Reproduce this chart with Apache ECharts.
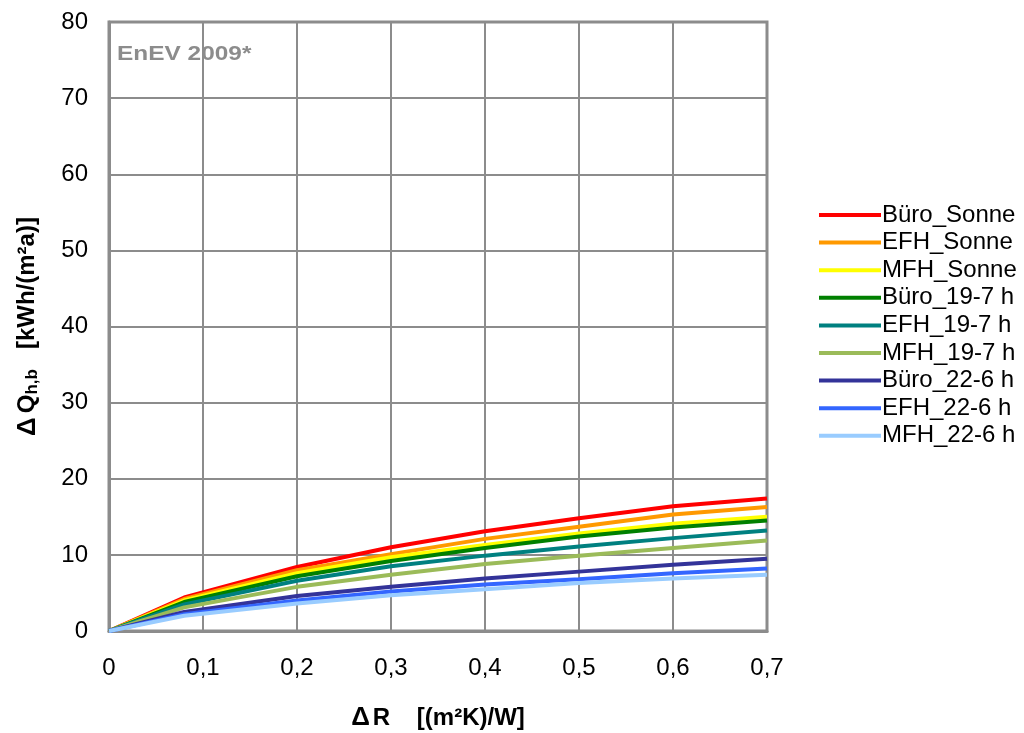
<!DOCTYPE html>
<html>
<head>
<meta charset="utf-8">
<style>
    html, body { margin: 0; padding: 0; background: #fff; }
    #chart { width: 1024px; height: 733px; }
</style>
<script src="https://cdn.jsdelivr.net/npm/echarts@6/dist/echarts.min.js"></script>
</head>
<body>
<div id="chart"></div>
<script>
    // ΔR Werte (x) und ΔQ Werte je Variante (y)
    var dR = [0, 0.08, 0.2, 0.3, 0.4, 0.5, 0.6, 0.7];
    var seriesNames = ['Büro_Sonne', 'EFH_Sonne', 'MFH_Sonne', 'Büro_19-7 h', 'EFH_19-7 h', 'MFH_19-7 h', 'Büro_22-6 h', 'EFH_22-6 h', 'MFH_22-6 h'];
    var bueroSonne = [0, 4.4, 8.4, 11.0, 13.1, 14.8, 16.4, 17.4];
    var efhSonne   = [0, 4.2, 8.0, 10.1, 12.1, 13.7, 15.3, 16.3];
    var mfhSonne   = [0, 4.0, 7.6, 9.7, 11.3, 12.8, 14.1, 15.0];
    var buero197   = [0, 3.8, 7.2, 9.2, 10.9, 12.4, 13.6, 14.5];
    var efh197     = [0, 3.5, 6.6, 8.5, 9.9, 11.1, 12.2, 13.2];
    var mfh197     = [0, 3.1, 5.8, 7.4, 8.8, 9.9, 10.9, 11.9];
    var buero226   = [0, 2.5, 4.6, 5.8, 6.9, 7.8, 8.7, 9.5];
    var efh226     = [0, 2.2, 4.0, 5.2, 6.1, 6.8, 7.6, 8.2];
    var mfh226     = [0, 2.0, 3.6, 4.7, 5.5, 6.3, 6.9, 7.4];
    var yTicks = [0, 10, 20, 30, 40, 50, 60, 70, 80];
    var xTicks = [0, 0.1, 0.2, 0.3, 0.4, 0.5, 0.6, 0.7];

    var colors = ['#ff0000', '#ff9900', '#ffff00', '#008000', '#008080', '#9bbb59', '#333399', '#3366ff', '#99ccff'];
    var values = [bueroSonne, efhSonne, mfhSonne, buero197, efh197, mfh197, buero226, efh226, mfh226];

    var myChart = echarts.init(document.getElementById('chart'));
    var font = 'Liberation Sans, Arial, sans-serif';
    var gridColor = '#8c8c8c';

    var option = {
        animation: false,
        color: colors,
        textStyle: {fontFamily: font},
        grid: {
            left: 109,
            right: 257,
            top: 22,
            bottom: 102,
            outerBoundsMode: 'none',
            show: true,
            borderColor: gridColor,
            borderWidth: 3
        },
        legend: {
            orient: 'vertical',
            left: 814,
            top: 198,
            itemWidth: 62,
            itemHeight: 14,
            itemGap: 3.6,
            icon: 'path://M0,5 L62,5 L62,9 L0,9 Z',
            textStyle: {fontSize: 24, lineHeight: 24, color: '#000', fontFamily: font, padding: [0, 0, 0, -4]},
            data: seriesNames
        },
        graphic: [{
            type: 'text',
            left: 111,
            top: 37,
            style: {
                text: 'EnEV 2009*',
                font: 'bold 20px ' + font,
                fill: '#8c8c8c',
                backgroundColor: '#fff',
                padding: [7, 5, 10, 5]
            },
            scaleX: 1.22
        }],
        xAxis: {
            type: 'value',
            min: xTicks[0],
            max: xTicks[xTicks.length - 1],
            interval: 0.1,
            name: '{d|Δ}{b|R    [(m²K)/W]}',
            nameLocation: 'middle',
            nameGap: 74,
            nameTextStyle: {
                rich: {
                    d: {fontSize: 26, fontWeight: 'bold', color: '#000', fontFamily: font, padding: [0, 3, 0, 0]},
                    b: {fontSize: 24, fontWeight: 'bold', color: '#000', fontFamily: font}
                }
            },
            axisLine: {lineStyle: {color: gridColor, width: 3}},
            axisTick: {show: false},
            axisLabel: {
                fontSize: 24, color: '#000', margin: 25,
                formatter: function (v) { return String(Math.round(v * 10) / 10).replace('.', ','); }
            },
            splitLine: {lineStyle: {color: gridColor, width: 2}}
        },
        yAxis: {
            type: 'value',
            min: yTicks[0],
            max: yTicks[yTicks.length - 1],
            interval: 10,
            name: '{d|Δ}{b|Q}{s|h,b}{b|   [kWh/(m²a)]}',
            nameLocation: 'middle',
            nameGap: 68,
            nameTextStyle: {
                rich: {
                    d: {fontSize: 26, fontWeight: 'bold', color: '#000', fontFamily: font, padding: [0, 4, 0, 0]},
                    b: {fontSize: 24, fontWeight: 'bold', color: '#000', fontFamily: font},
                    s: {fontSize: 17, fontWeight: 'bold', color: '#000', fontFamily: font, padding: [10, 0, 0, 0]}
                }
            },
            axisLine: {show: true, lineStyle: {color: gridColor, width: 3}},
            axisTick: {show: false},
            axisLabel: {fontSize: 24, color: '#000', margin: 21},
            splitLine: {lineStyle: {color: gridColor, width: 2}}
        },
        series: seriesNames.map(function (name, i) {
            return {
                name: name,
                type: 'line',
                showSymbol: false,
                symbol: 'none',
                lineStyle: {width: 4, color: colors[i]},
                data: dR.map(function (x, j) { return [x, values[i][j]]; })
            };
        })
    };
    myChart.setOption(option);
</script>
</body>
</html>
